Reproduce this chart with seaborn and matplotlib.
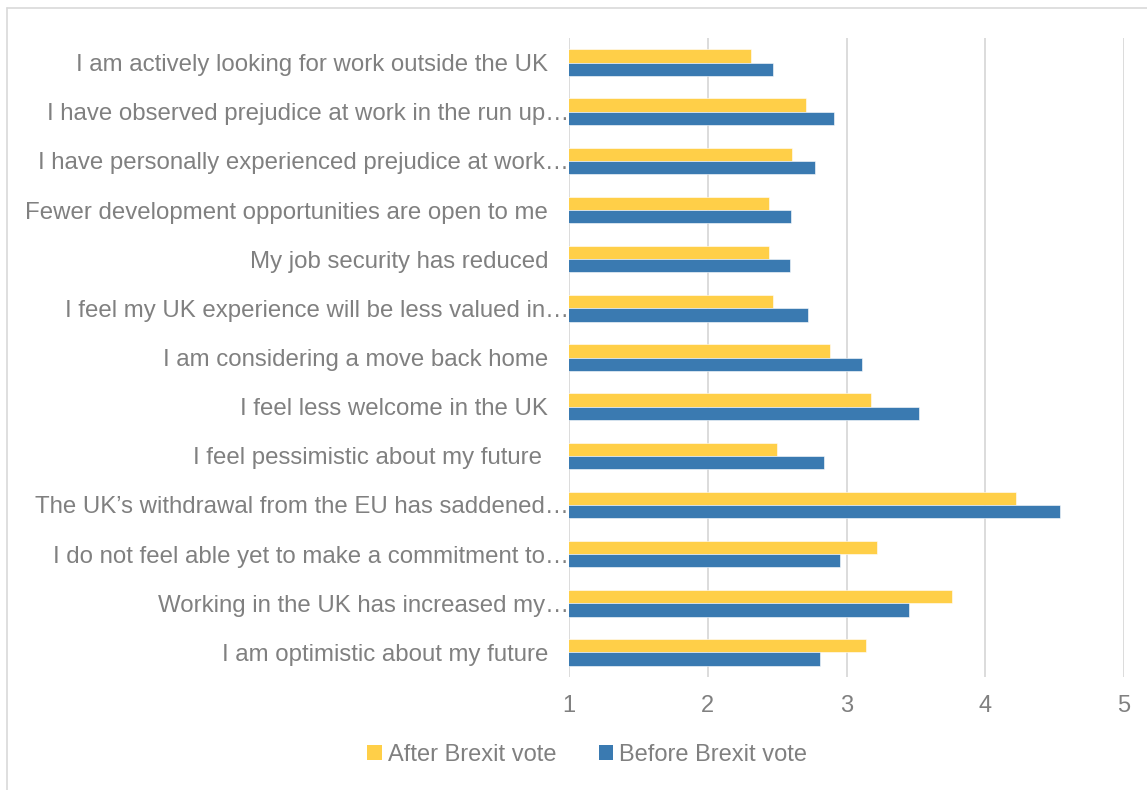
import matplotlib
matplotlib.use("Agg")
import matplotlib.pyplot as plt
import seaborn as sns
import pandas as pd
from matplotlib.lines import Line2D
from matplotlib.patches import Patch

categories = [
    "I am actively looking for work outside the UK",
    "I have observed prejudice at work in the run up\u2026",
    "I have personally experienced prejudice at work\u2026",
    "Fewer development opportunities are open to me",
    "My job security has reduced",
    "I feel my UK experience will be less valued in\u2026",
    "I am considering a move back home",
    "I feel less welcome in the UK",
    "I feel pessimistic about my future ",
    "The UK\u2019s withdrawal from the EU has saddened\u2026",
    "I do not feel able yet to make a commitment to\u2026",
    "Working in the UK has increased my\u2026",
    "I am optimistic about my future",
]
truncated = [False, True, True, False, False, True, False, False, False, True, True, True, False]
after_vals = [2.31, 2.71, 2.61, 2.44, 2.44, 2.47, 2.88, 3.18, 2.50, 4.22, 3.22, 3.76, 3.14]
before_vals = [2.47, 2.91, 2.77, 2.60, 2.59, 2.72, 3.11, 3.52, 2.84, 4.54, 2.95, 3.45, 2.81]
series = ["After Brexit vote", "Before Brexit vote"]
colors = ["#FFCF48", "#3A7AB1"]
x_ticks = [1, 2, 3, 4, 5]

df = pd.DataFrame({
    "category": categories * 2,
    "value": after_vals + before_vals,
    "series": [series[0]] * len(categories) + [series[1]] * len(categories),
})

sns.set_theme(style="white")
plt.rcParams["font.family"] = ["Liberation Sans", "DejaVu Sans"]
text_col = "#808080"
fs = 17.3

fig = plt.figure(figsize=(11.47, 7.90), dpi=100)
ax = fig.add_axes([569 / 1147, 1 - 677 / 790, (1124 - 569) / 1147, (677 - 38) / 790])

sns.barplot(data=df, y="category", x="value", hue="series", order=categories,
            hue_order=series, palette=colors, orient="h", width=0.54,
            ax=ax, legend=False, saturation=1, edgecolor="none")

for p in ax.patches:
    p.set_edgecolor("white")
    p.set_linewidth(0.4)

ax.set_xlim(1, 5)
ax.set_ylim(len(categories) - 0.5, -0.5)
ax.set_xticks(x_ticks)
ax.set_xticklabels([str(t) for t in x_ticks])
ax.grid(axis="x", color="#D9D9D9", linewidth=1.3)
ax.set_axisbelow(True)
for s in ax.spines.values():
    s.set_visible(False)
ax.set_xlabel("")
ax.set_ylabel("")
ax.tick_params(axis="x", length=0, pad=13, labelsize=17, labelcolor=text_col)
ax.tick_params(axis="y", length=0, labelsize=fs, labelcolor=text_col)
for tick, tr in zip(ax.yaxis.get_major_ticks(), truncated):
    tick.set_pad(0 if tr else 15)

handles = [Patch(facecolor=c, edgecolor="none") for c in colors]
fig.legend(handles, series, loc="center", bbox_to_anchor=(0.512, 1 - 755 / 790),
           ncol=2, frameon=False, fontsize=17, labelcolor=text_col,
           handlelength=0.62, handleheight=0.62, handletextpad=0.25, columnspacing=1.8)

# chart-area border (top and left visible)
fig.add_artist(Line2D([7 / 1147, 1.0], [1 - 8 / 790, 1 - 8 / 790], color="#D9D9D9", linewidth=1.2, transform=fig.transFigure))
fig.add_artist(Line2D([7 / 1147, 7 / 1147], [0, 1 - 8 / 790], color="#D9D9D9", linewidth=1.2, transform=fig.transFigure))

fig.savefig("out.png", dpi=100)
